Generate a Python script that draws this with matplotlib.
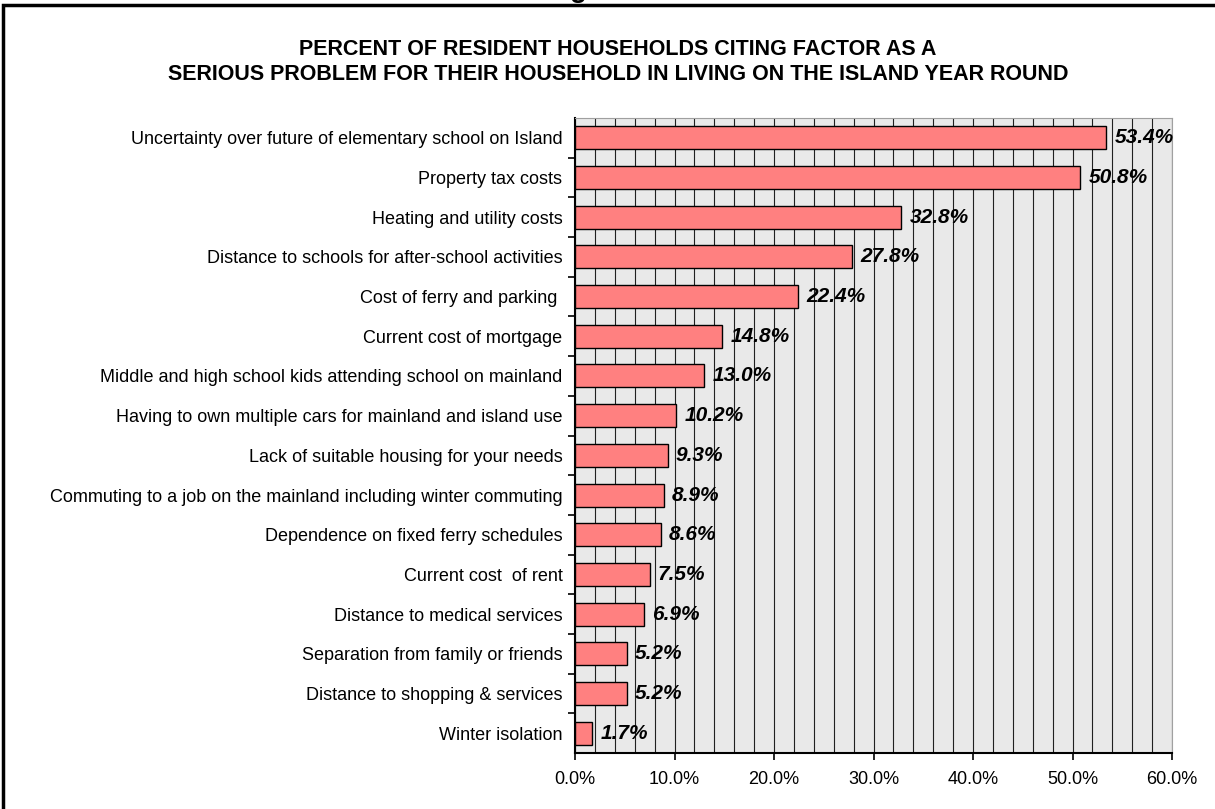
import matplotlib.pyplot as plt
from matplotlib.patches import Rectangle
from matplotlib.ticker import MultipleLocator, PercentFormatter

plt.rcParams['font.family'] = ['Liberation Sans', 'DejaVu Sans']

# Faktoren (von oben nach unten) und Anteile in Prozent
factors = [
    "Uncertainty over future of elementary school on Island",
    "Property tax costs",
    "Heating and utility costs",
    "Distance to schools for after-school activities",
    "Cost of ferry and parking ",
    "Current cost of mortgage",
    "Middle and high school kids attending school on mainland",
    "Having to own multiple cars for mainland and island use",
    "Lack of suitable housing for your needs",
    "Commuting to a job on the mainland including winter commuting",
    "Dependence on fixed ferry schedules",
    "Current cost  of rent",
    "Distance to medical services",
    "Separation from family or friends",
    "Distance to shopping & services",
    "Winter isolation",
]
percent = [53.4, 50.8, 32.8, 27.8, 22.4, 14.8, 13.0, 10.2, 9.3, 8.9, 8.6, 7.5, 6.9, 5.2, 5.2, 1.7]

title = ("PERCENT OF RESIDENT HOUSEHOLDS CITING FACTOR AS A\n"
         "SERIOUS PROBLEM FOR THEIR HOUSEHOLD IN LIVING ON THE ISLAND YEAR ROUND")

fig = plt.figure(figsize=(12.15, 8.09), dpi=100)
ax = fig.add_axes([575 / 1215, 1 - 753 / 809, 597 / 1215, 635 / 809])

# Rahmen um das ganze Bild (rechts und unten ausserhalb)
fig.patches.append(Rectangle((3 / 1215, -0.01), 1.02, 1 - 5 / 809 + 0.01,
                             transform=fig.transFigure, fill=False,
                             edgecolor="black", linewidth=2.5))
fig.text(578 / 1215, 1.012, "g", ha="center", va="center", fontsize=20, fontweight="bold")

pos = list(range(len(factors)))
ax.set_facecolor("#e9e9e9")
ax.barh(pos, percent, height=0.58, color="#ff8080", edgecolor="black",
        linewidth=1.0, zorder=3)

for y, v in zip(pos, percent):
    ax.annotate(f"{v:.1f}%", (v, y), xytext=(6, 0), textcoords="offset points",
                va="center", ha="left", fontsize=15, fontweight="bold",
                fontstyle="italic", zorder=4)

ax.set_xlim(0, 60)
ax.set_ylim(len(factors) - 0.5, -0.5)
ax.xaxis.set_major_locator(MultipleLocator(10))
ax.xaxis.set_minor_locator(MultipleLocator(2))
ax.xaxis.set_major_formatter(PercentFormatter(decimals=1))
ax.grid(True, axis="x", which="both", color="#202020", linewidth=0.8, zorder=1)
ax.set_axisbelow(True)

ax.set_yticks(pos)
ax.set_yticklabels(factors, fontsize=13)
ax.set_yticks([p + 0.5 for p in pos[:-1]], minor=True)
ax.tick_params(axis="y", which="major", length=0, pad=9)
ax.tick_params(axis="y", which="minor", length=5, width=1.2)
ax.tick_params(axis="x", which="major", length=5, width=1.2, labelsize=13, pad=8)
ax.tick_params(axis="x", which="minor", length=0)

ax.spines["left"].set_linewidth(1.5)
ax.spines["bottom"].set_linewidth(1.5)
ax.spines["top"].set_color("#a0a0a0")
ax.spines["right"].set_color("#a0a0a0")

fig.text(618 / 1215, 1 - 62 / 809, title, ha="center", va="center",
         fontsize=15.5, fontweight="bold", linespacing=1.25)

fig.savefig("out.png", dpi=100)
